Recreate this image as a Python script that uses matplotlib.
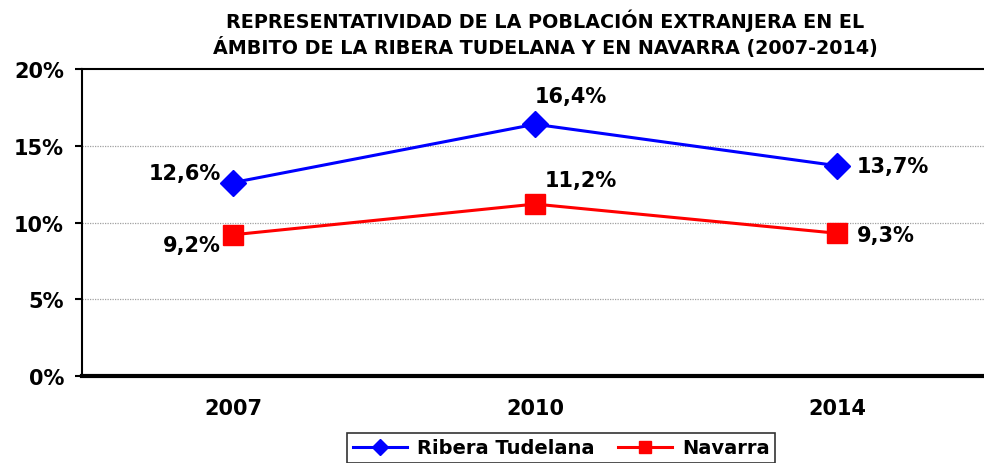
import numpy as np
import matplotlib.pyplot as plt
from matplotlib.ticker import FuncFormatter

# values (percent)
years = ['2007', '2010', '2014']
ribera = [12.6, 16.4, 13.7]
navarra = [9.2, 11.2, 9.3]
ribera_lbl = ['12,6%', '16,4%', '13,7%']
navarra_lbl = ['9,2%', '11,2%', '9,3%']

title = ('REPRESENTATIVIDAD DE LA POBLACIÓN EXTRANJERA EN EL\n'
         'ÁMBITO DE LA RIBERA TUDELANA Y EN NAVARRA (2007-2014)')

plt.rcParams['font.family'] = ['DejaVu Sans']
plt.rcParams['font.weight'] = 'bold'

fig = plt.figure(figsize=(9.84, 4.64), dpi=100)
# axes: left 82px, right ~988px, top 70px, bottom 377px
ax = fig.add_axes([82/984, 1 - 377/464, 906/984, 307/464])

x = np.arange(len(years))
ax.plot(x, ribera, color='#0000ff', lw=2.2, marker='D', ms=13,
        label='Ribera Tudelana', zorder=3)
ax.plot(x, navarra, color='#ff0000', lw=2.2, marker='s', ms=14,
        label='Navarra', zorder=3)

ax.set_xlim(-0.5, 2.5)
ax.set_ylim(0, 20)
ax.set_yticks([0, 5, 10, 15, 20])
ax.yaxis.set_major_formatter(FuncFormatter(lambda v, p: f'{v:.0f}%'))
ax.set_xticks(x)
ax.set_xticklabels(years)
ax.tick_params(axis='y', labelsize=15, length=5, width=1.5, pad=8)
ax.tick_params(axis='x', labelsize=15, length=0, pad=16)
for t in ax.get_xticklabels() + ax.get_yticklabels():
    t.set_fontweight('bold')

for yv in [5, 10, 15]:
    ax.axhline(yv, color='#a0a0a0', lw=0.9, ls=(0, (1, 1)), zorder=1)

ax.spines['right'].set_visible(False)
ax.spines['top'].set_linewidth(1.5)
ax.spines['left'].set_linewidth(1.5)
ax.spines['bottom'].set_linewidth(3)

# data labels
lab = dict(fontsize=15, fontweight='bold', textcoords='offset points')
ax.annotate(ribera_lbl[0], (x[0], ribera[0]), xytext=(-9, 7), ha='right', va='center', **lab)
ax.annotate(ribera_lbl[1], (x[1], ribera[1]), xytext=(0, 20), ha='left', va='center', **lab)
ax.annotate(ribera_lbl[2], (x[2], ribera[2]), xytext=(14, 0), ha='left', va='center', **lab)
ax.annotate(navarra_lbl[0], (x[0], navarra[0]), xytext=(-9, -7), ha='right', va='center', **lab)
ax.annotate(navarra_lbl[1], (x[1], navarra[1]), xytext=(7, 17), ha='left', va='center', **lab)
ax.annotate(navarra_lbl[2], (x[2], navarra[2]), xytext=(14, -1), ha='left', va='center', **lab)

fig.text(545/984, 1 - 34/464, title, ha='center', va='center',
         fontsize=13.8, fontweight='bold', linespacing=1.3)

leg = fig.legend(loc='center', bbox_to_anchor=(561/984, 1 - 449/464), ncol=2,
                 frameon=True, fancybox=False, edgecolor='black',
                 prop={'size': 14, 'weight': 'bold'}, handlelength=2.8,
                 columnspacing=1.2, handletextpad=0.5, borderpad=0.3)
leg.get_frame().set_linewidth(1.2)
for h in leg.legend_handles:
    h.set_markersize(8)

fig.savefig('out.png', dpi=100)
